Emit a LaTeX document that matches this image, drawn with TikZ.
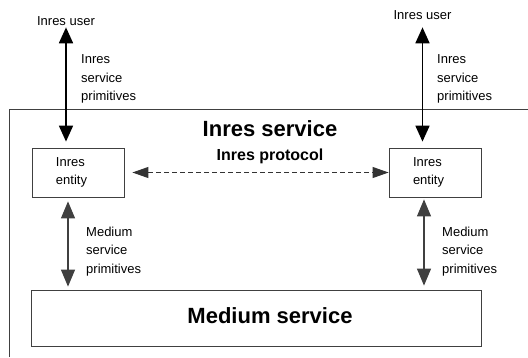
\documentclass[tikz,border=0pt]{standalone}
\usepackage{fontspec}
\setmainfont{Liberation Sans}
\usetikzlibrary{arrows.meta}
\begin{document}
\begin{tikzpicture}[x=1pt, y=-1pt]
%styles des noeuds
\tikzstyle{textLine}=[rectangle, text=black, inner sep=0pt, font=\fontsize{13}{18.5}\selectfont]
\tikzstyle{textBold}=[rectangle, text=black, inner sep=0pt, font=\bfseries\fontsize{22}{26}\selectfont]
\tikzstyle{entity}=[rectangle, draw=black!75, line width=0.8pt, minimum height=49pt, text width=44pt, inner xsep=24pt, align=left, font=\fontsize{13}{18.5}\selectfont]
\useasboundingbox (0,0) rectangle (528,357);
%figure
\draw[black!75, line width=0.8pt] (9,357) -- (9,109) -- (528,109); % Inres service
\node[textBold, anchor=base] (inres) at (270,136) {Inres service};
\node[textBold, anchor=base, font=\bfseries\fontsize{16}{19}\selectfont] (protocol) at (270,160) {Inres protocol};

\node[entity] (leftentity) at (78,172.5) {Inres\\entity};
\node[entity] (rightentity) at (435,172.5) {Inres\\entity};
\node[rectangle, draw=black!75, line width=0.8pt, minimum width=450pt, minimum height=56pt] (medium) at (256,318) {};
\node[textBold, anchor=base] (mediumtext) at (270,323) {Medium service};

% users
\node[textLine, anchor=base] (leftuser) at (66,25) {Inres user};
\node[textLine, anchor=base] (rightuser) at (422.5,19.3) {Inres user};

%text
\node[textLine, anchor=north west, align=left] (leftprim) at (81,54.7) {Inres\\service\\primitives};
\node[textLine, anchor=north west, align=left] (rightprim) at (437,54.7) {Inres\\service\\primitives};
\node[textLine, anchor=north west, align=left] (leftmed) at (86,226.5) {Medium\\service\\primitives};
\node[textLine, anchor=north west, align=left] (rightmed) at (442,226.5) {Medium\\service\\primitives};

%vecteur
\tikzstyle{prim}=[{Triangle[length=16pt,width=14pt]}-{Triangle[length=16pt,width=14pt]}, line width=1.8pt]
\tikzstyle{medprim}=[{Triangle[length=17pt,width=14pt]}-{Triangle[length=17pt,width=14pt]}, line width=1.2pt, black!75]

% upper
\draw[prim, shorten <=2pt, shorten >=6pt] (leftuser.south) -- (leftuser.south |- leftentity.north);
\draw[prim, shorten <=7.7pt, shorten >=6pt] (rightuser.south) -- (rightuser.south |- rightentity.north);

% lower
\draw[medprim, shorten <=4pt, shorten >=3pt] ([xshift=-10pt]leftentity.south) -- ([xshift=-10pt]leftentity.south |- medium.north);
\draw[medprim, shorten <=2pt, shorten >=4pt] ([xshift=-11pt]rightentity.south) -- ([xshift=-11pt]rightentity.south |- medium.north);

% protocol
\draw[{Triangle[length=16pt,width=11pt]}-{Triangle[length=16pt,width=11pt]}, dash pattern=on 5pt off 3pt, line width=0.9pt, black!80, shorten <=8pt] (leftentity.east) -- (rightentity.west);
\end{tikzpicture}
\end{document}
